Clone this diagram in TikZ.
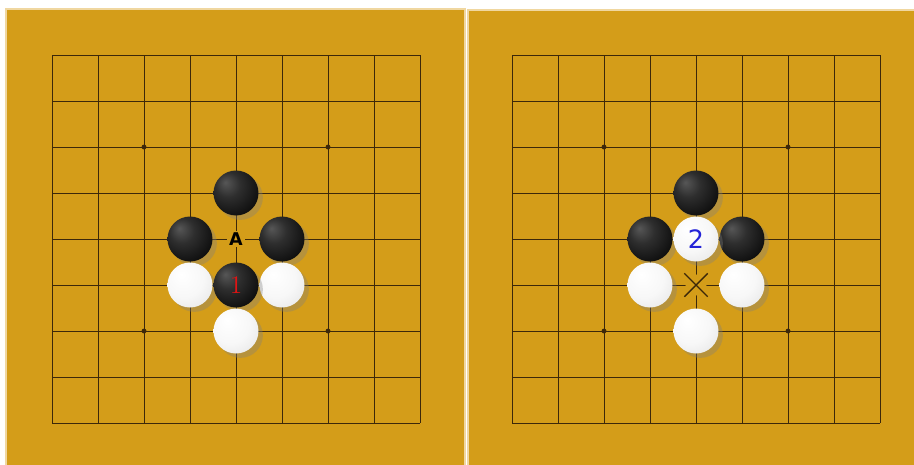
\documentclass[tikz,border=0pt]{standalone}
\usepackage{fontspec}
\setsansfont{DejaVu Sans}
\usepackage{tikz}
\usetikzlibrary{shadows, shapes.misc}
\definecolor{cBoard}{RGB}{212,157,25}
\definecolor{cEdge}{RGB}{240,215,160}
\definecolor{cLine}{RGB}{60,40,10}
\definecolor{cRed}{RGB}{225,20,20}
\definecolor{cBlue}{RGB}{35,35,215}
\pgfdeclareradialshading{blackball}{\pgfpoint{-12bp}{12bp}}{color(0bp)=(black!66); color(14bp)=(black!82); color(32bp)=(black!94); color(60bp)=(black)}
\pgfdeclareradialshading{whiteball}{\pgfpoint{-10bp}{12bp}}{color(0bp)=(white); color(22bp)=(white!97!black); color(40bp)=(black!10); color(55bp)=(black!24); color(70bp)=(black!38)}
\tikzset{
	board/.style    ={fill=cBoard, draw=cEdge, line width=0.6pt},
	gridline/.style ={draw=cLine, line width=0.5pt},
	stone/.style    ={circle, minimum size=0.9cm, inner sep=0pt, font=\Large,
	                  drop shadow={shadow xshift=2.5pt, shadow yshift=-2.5pt, opacity=0.35}},
	blackstone/.style={stone, shading=blackball},
	whitestone/.style={stone, shading=whiteball},
	marker/.style   ={fill=cBoard, inner sep=1pt, font=\sffamily\bfseries},
}

\begin{document}
\begin{tikzpicture}[x=0.02cm, y=-0.02cm]
	\useasboundingbox (0,0) rectangle (914,464);
	\fill[white] (0,0) rectangle (914,464);
	% boards
	\filldraw[board] (6,9) rectangle (465,468);
	\filldraw[board] (468,10) rectangle (918,468);
	% grid lines and star points
	\foreach \ox in {52,512} {
		\foreach \i in {0,...,8} {
			\draw[gridline] ({\ox+46*\i},55) -- ({\ox+46*\i},423);
			\draw[gridline] (\ox,{55+46*\i}) -- ({\ox+368},{55+46*\i});
		}
		\foreach \sx/\sy in {2/2,6/2,2/6,6/6}
			\fill[cLine] ({\ox+46*\sx},{55+46*\sy}) circle (1.4pt);
	}
	% left board: black 1 and point A
	\node[blackstone] (lb1) at (236,193) {};
	\node[blackstone] (lb2) at (190,239) {};
	\node[blackstone] (lb3) at (282,239) {};
	\node[whitestone] (lw1) at (190,285) {};
	\node[whitestone] (lw2) at (282,285) {};
	\node[blackstone, text=cRed] (move1) at (236,285) {1};
	\node[whitestone] (lw3) at (236,331) {};
	\node[marker] (pointA) at (236,239) {A};
	% right board: white 2 takes, ko at the cross
	\node[blackstone] (rb1) at (696,193) {};
	\node[blackstone] (rb2) at (650,239) {};
	\node[blackstone] (rb3) at (742,239) {};
	\node[whitestone] (rw1) at (650,285) {};
	\node[whitestone] (rw2) at (742,285) {};
	\node[whitestone, text=cBlue, font=\sffamily\Large] (move2) at (696,239) {2};
	\node[whitestone] (rw3) at (696,331) {};
	\fill[cBoard] (696,285) circle (6pt);
	\node[draw=cLine, cross out, line width=0.8pt, minimum size=0.44cm, inner sep=0pt] (ko) at (696,285) {};
\end{tikzpicture}
\end{document}
